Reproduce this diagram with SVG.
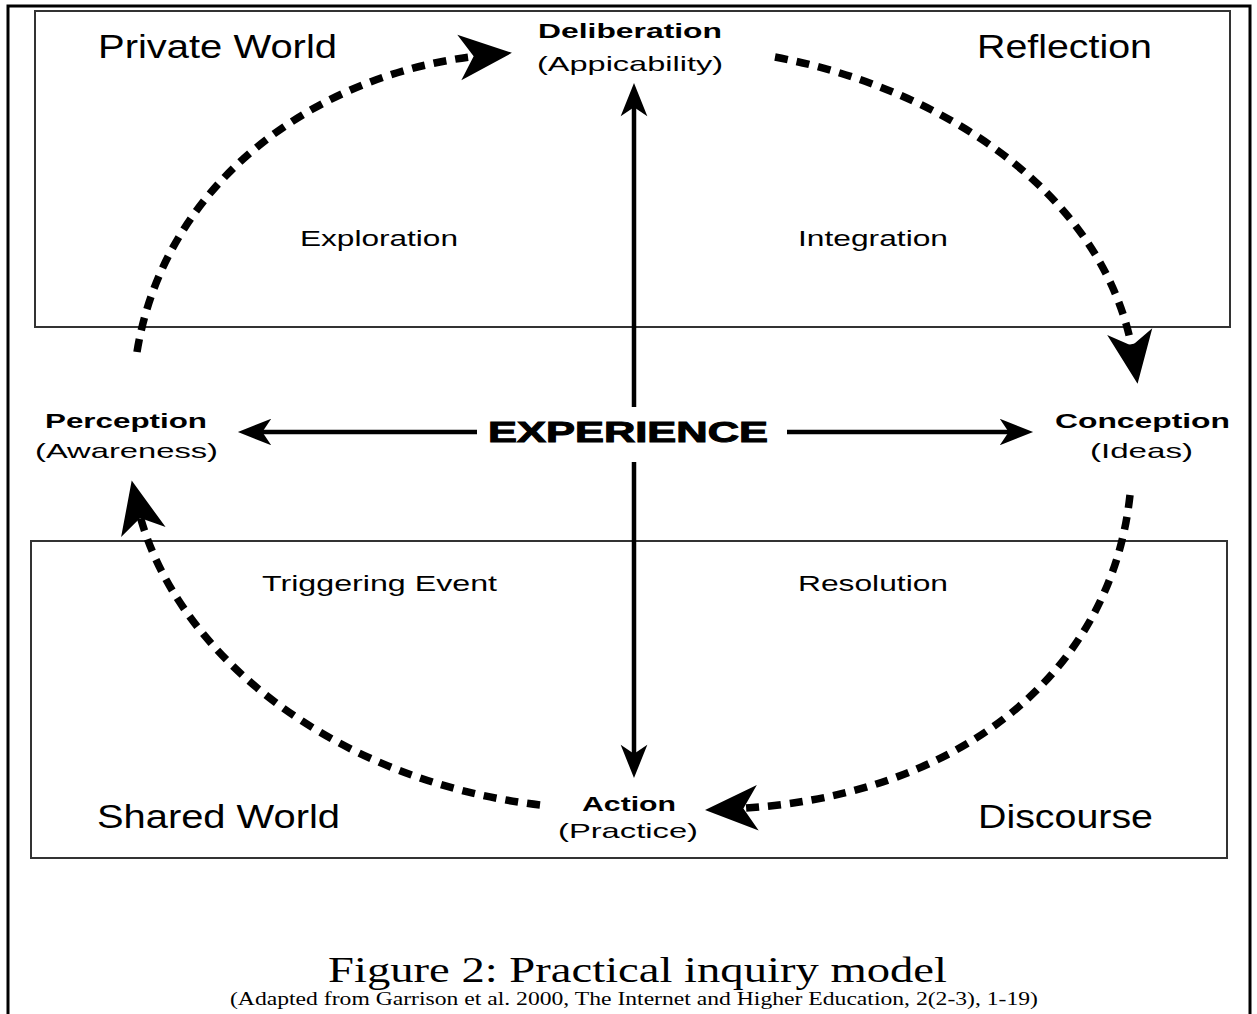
<svg xmlns="http://www.w3.org/2000/svg" width="1257" height="1014" viewBox="0 0 1257 1014">
<style>
.frame{fill:none;stroke:#000;stroke-width:3}
.box{fill:none;stroke:#333;stroke-width:2}
.big{font-family:"Liberation Sans",Arial,sans-serif;font-size:34px;fill:#000}
.sm{font-family:"Liberation Sans",Arial,sans-serif;font-size:21px;fill:#000}
.bd{font-family:"Liberation Sans",Arial,sans-serif;font-size:20px;font-weight:bold;fill:#000}
.ph{font-family:"Liberation Sans",Arial,sans-serif;font-size:22px;fill:#000}
.exp{font-family:"Liberation Sans",Arial,sans-serif;font-size:29px;font-weight:900;fill:#000;stroke:#000;stroke-width:1}
.cap{font-family:"Liberation Serif","Times New Roman",serif;fill:#000}
.dash{fill:none;stroke:#000;stroke-width:7.5;stroke-dasharray:13 9}
.solid{fill:none;stroke:#000;stroke-width:4.5}
</style>
<defs>
<marker id="big" markerUnits="userSpaceOnUse" markerWidth="70" markerHeight="60" refX="0" refY="0" viewBox="-30 -25 55 50" orient="auto" overflow="visible">
<path d="M20,0 L-24,-19 L-12,0 L-24,19 Z" fill="#000"/>
</marker>
<marker id="small" markerUnits="userSpaceOnUse" markerWidth="40" markerHeight="40" refX="0" refY="0" viewBox="-22 -15 36 30" orient="auto" overflow="visible">
<path d="M10,0 L-20,-12 L-12,0 L-20,12 Z" fill="#000"/>
</marker>
</defs>
<rect width="1257" height="1014" fill="#fff"/>
<rect class="frame" x="8" y="6" width="1242" height="1020"/>
<g id="private-world-box"><rect class="box" x="35" y="11" width="1195" height="316"/></g>
<g id="shared-world-box"><rect class="box" x="31" y="541" width="1196" height="317"/></g>
<g id="labels-corner">
<text class="big" x="98" y="58" textLength="239" lengthAdjust="spacingAndGlyphs">Private World</text>
<text class="big" x="977" y="58" textLength="175" lengthAdjust="spacingAndGlyphs">Reflection</text>
<text class="big" x="97" y="828" textLength="243" lengthAdjust="spacingAndGlyphs">Shared World</text>
<text class="big" x="978" y="828" textLength="175" lengthAdjust="spacingAndGlyphs">Discourse</text>
</g>
<g id="phases">
<text class="ph" x="300" y="246" textLength="158" lengthAdjust="spacingAndGlyphs">Exploration</text>
<text class="ph" x="798" y="246" textLength="150" lengthAdjust="spacingAndGlyphs">Integration</text>
<text class="ph" x="262" y="591" textLength="235" lengthAdjust="spacingAndGlyphs">Triggering Event</text>
<text class="ph" x="798" y="591" textLength="150" lengthAdjust="spacingAndGlyphs">Resolution</text>
</g>
<g id="node-deliberation">
<text class="bd" x="538" y="38" textLength="184" lengthAdjust="spacingAndGlyphs">Deliberation</text>
<text class="sm" x="537" y="71" textLength="186" lengthAdjust="spacingAndGlyphs">(Appicability)</text>
</g>
<g id="node-perception">
<text class="bd" x="45" y="428" textLength="162" lengthAdjust="spacingAndGlyphs">Perception</text>
<text class="sm" x="35" y="458" textLength="183" lengthAdjust="spacingAndGlyphs">(Awareness)</text>
</g>
<g id="node-conception">
<text class="bd" x="1055" y="428" textLength="175" lengthAdjust="spacingAndGlyphs">Conception</text>
<text class="sm" x="1090" y="458" textLength="103" lengthAdjust="spacingAndGlyphs">(Ideas)</text>
</g>
<g id="node-action">
<text class="bd" x="582" y="811" textLength="94" lengthAdjust="spacingAndGlyphs">Action</text>
<text class="sm" x="558" y="838" textLength="140" lengthAdjust="spacingAndGlyphs">(Practice)</text>
</g>
<g id="node-experience">
<text class="exp" x="488" y="442" textLength="280" lengthAdjust="spacingAndGlyphs">EXPERIENCE</text>
</g>
<g id="connectors">
<path class="solid" d="M634 407 L634 94" marker-end="url(#small)"/>
<path class="solid" d="M634 462 L634 767" marker-end="url(#small)"/>
<path class="solid" d="M477 432 L249 432" marker-end="url(#small)"/>
<path class="solid" d="M787 432 L1022 432" marker-end="url(#small)"/>
<path class="dash" d="M137 352 C165 180 320 70 488 55" marker-end="url(#big)"/>
<path class="dash" d="M775 57 C950 90 1110 200 1134 360" marker-end="url(#big)"/>
<path class="dash" d="M1130 495 C1110 680 950 800 729 809" marker-end="url(#big)"/>
<path class="dash" d="M540 805 C330 780 170 650 137 504" marker-end="url(#big)"/>
</g>
<g id="caption">
<text class="cap" x="328" y="982" font-size="36" textLength="619" lengthAdjust="spacingAndGlyphs">Figure 2: Practical inquiry model</text>
<text class="cap" x="230" y="1005" font-size="18" textLength="808" lengthAdjust="spacingAndGlyphs">(Adapted from Garrison et al. 2000, The Internet and Higher Education, 2(2-3), 1-19)</text>
</g>
</svg>
